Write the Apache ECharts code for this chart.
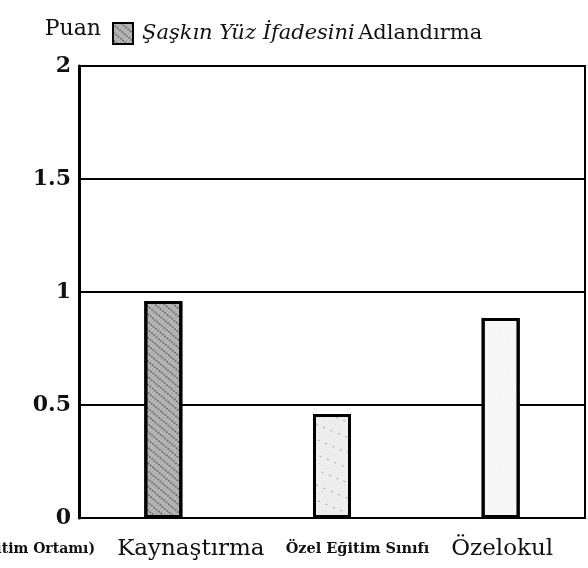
<!DOCTYPE html>
<html>
<head>
<meta charset="utf-8">
<script src="https://cdn.jsdelivr.net/npm/echarts@6/dist/echarts.min.js"></script>
<style>
  html, body { margin: 0; padding: 0; background: #fff; }
  #main { width: 588px; height: 568px; }
</style>
</head>
<body>
<div id="main"></div>
<script>
// data
var categories = ['Kaynaştırma', 'Özel Eğitim Sınıfı', 'Özelokul'];
var scores = [0.96, 0.46, 0.885];
var yTicks = [0, 0.5, 1, 1.5, 2];
var seriesName = 'Şaşkın Yüz İfadesini Adlandırma';

var serif = '"DejaVu Serif", "Liberation Serif", serif';

// each bar has its own speckled grey
var barFills = [
  { color: '#b9b9b9', decal: { symbol: 'circle', symbolSize: 0.9, dashArrayX: [[1, 2], [2, 1]], dashArrayY: [2, 1], rotation: 0.7, color: 'rgba(0,0,0,0.55)' } },
  { color: '#eeeeee', decal: { symbol: 'circle', symbolSize: 0.7, dashArrayX: [[1, 5], [2, 6]], dashArrayY: [3, 4], rotation: 0.4, color: 'rgba(0,0,0,0.45)' } },
  { color: '#f7f7f7', decal: { symbol: 'circle', symbolSize: 0.5, dashArrayX: [[1, 8], [1, 10]], dashArrayY: [4, 6], rotation: 0.3, color: 'rgba(0,0,0,0.3)' } }
];

var chart = echarts.init(document.getElementById('main'));

chart.setOption({
  backgroundColor: '#fff',
  animation: false,
  aria: { decal: { show: true } },
  legend: {
    left: 107,
    top: 17,
    icon: 'rect',
    itemWidth: 20,
    itemHeight: 21,
    itemGap: 0,
    data: [seriesName],
    formatter: function () {
      return '{i|Şaşkın Yüz İfadesini} {n|Adlandırma}';
    },
    textStyle: {
      padding: [0, 0, 0, 4],
      rich: {
        i: { fontFamily: serif, fontStyle: 'italic', fontSize: 21, color: '#111' },
        n: { fontFamily: serif, fontSize: 21, color: '#111' }
      }
    }
  },
  grid: {
    left: 79,
    right: 3,
    top: 66,
    bottom: 50,
    outerBoundsMode: 'none',
    containLabel: false,
    show: true,
    borderColor: '#000',
    borderWidth: 2,
    backgroundColor: 'transparent'
  },
  xAxis: {
    type: 'category',
    data: categories,
    name: '(Eğitim Ortamı)',
    nameLocation: 'start',
    nameGap: -16,
    nameTextStyle: {
      fontFamily: serif,
      fontWeight: 'bold',
      fontSize: 14,
      color: '#111',
      align: 'right',
      verticalAlign: 'top',
      padding: [24, 0, 0, 0]
    },
    axisLine: { lineStyle: { color: '#000', width: 2 } },
    axisTick: { show: false },
    axisLabel: {
      margin: 20,
      interval: 0,
      formatter: function (v, i) {
        if (i === 0) return '{a|' + v + '}';
        if (i === 1) return '{b|' + v + '}';
        return '{c|' + v + '}';
      },
      rich: {
        a: { fontFamily: serif, fontSize: 23, color: '#111', padding: [0, 0, 0, 55] },
        b: { fontFamily: serif, fontSize: 14.5, fontWeight: 'bold', color: '#111', padding: [4, 0, 0, 51] },
        c: { fontFamily: serif, fontSize: 23, color: '#111', padding: [0, 0, 0, 3] }
      }
    }
  },
  yAxis: {
    type: 'value',
    min: yTicks[0],
    max: yTicks[yTicks.length - 1],
    interval: 0.5,
    name: 'Puan',
    nameLocation: 'end',
    nameGap: 26,
    nameTextStyle: {
      fontFamily: serif,
      fontSize: 22,
      color: '#111',
      align: 'right',
      padding: [0, -22, 0, 0]
    },
    axisLine: { show: true, lineStyle: { color: '#000', width: 3 } },
    axisTick: { show: false },
    splitLine: { show: true, lineStyle: { color: '#000', width: 2 } },
    axisLabel: {
      margin: 8,
      fontFamily: serif,
      fontSize: 22,
      fontWeight: 'bold',
      color: '#111'
    }
  },
  series: [{
    name: seriesName,
    type: 'bar',
    barWidth: 38,
    itemStyle: {
      color: barFills[0].color,
      decal: barFills[0].decal,
      borderColor: '#000',
      borderWidth: 3
    },
    data: scores.map(function (v, i) {
      return {
        value: v,
        itemStyle: { color: barFills[i].color, decal: barFills[i].decal }
      };
    })
  }]
});
</script>
</body>
</html>
